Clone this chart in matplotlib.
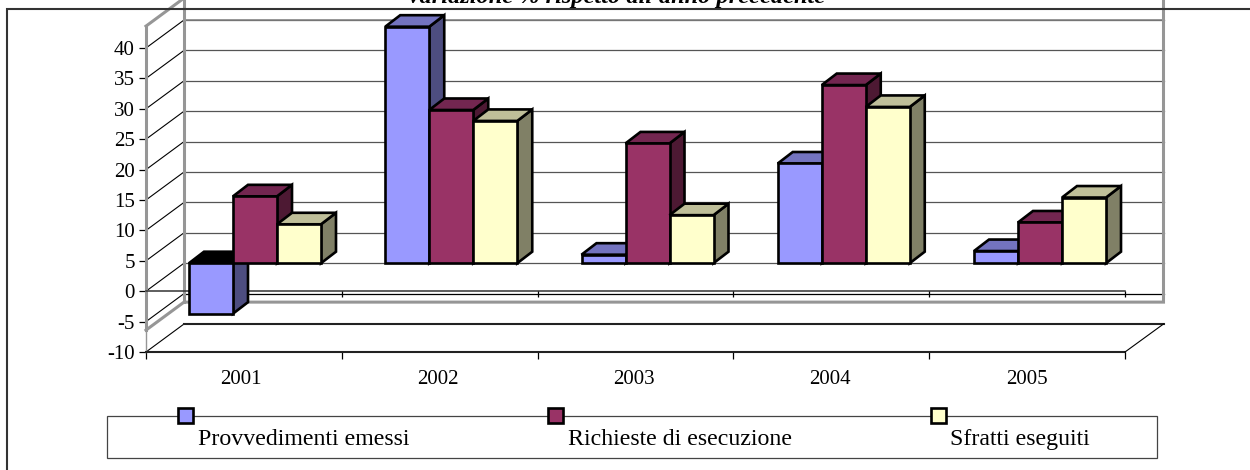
import matplotlib
matplotlib.use("Agg")
import matplotlib.pyplot as plt
from matplotlib.patches import Polygon, Rectangle
from matplotlib.lines import Line2D

plt.rcParams['font.family'] = ['Liberation Serif', 'DejaVu Serif']
plt.rcParams['axes.unicode_minus'] = False

years = ['2001', '2002', '2003', '2004', '2005']
provvedimenti = [-8.3, 38.9, 1.4, 16.4, 2.0]
richieste = [11.0, 25.2, 19.7, 29.3, 6.7]
sfratti = [6.4, 23.4, 7.9, 25.7, 10.8]
yticks = [-10, -5, 0, 5, 10, 15, 20, 25, 30, 35, 40]

names = ['Provvedimenti emessi', 'Richieste di esecuzione', 'Sfratti eseguiti']
face = ['#9999FF', '#993366', '#FFFFCC']
side = ['#4D4D80', '#4D1933', '#808066']
roof = ['#7373BF', '#732650', '#BFBF99']

W, H = 1250, 470
GRAY = '#969696'

fig = plt.figure(figsize=(W / 100, H / 100), dpi=100)

# pixel helpers, plot box runs from x 146 to 1125 and y 48 (=40) to 352 (=-10)
def fx(px):
    return px / W

def fy(py):
    return (H - py) / H

ax = fig.add_axes([fx(146), fy(352), fx(1125) - fx(146), fy(48) - fy(352)])
ax.set_xlim(0, 5)
ax.set_ylim(-10, 40)
ax.patch.set_alpha(0)
for s in ax.spines.values():
    s.set_visible(False)

# depth of the fake 3d box and of the bars, data units
px_x = 5 / (1125 - 146)
px_y = 50 / (352 - 48)
DX, DY = 38 * px_x, 28 * px_y
BX, BY = 15 * px_x, 11.5 * px_y
BASE = DY
BAR_W = 44 * px_x
START = 43 * px_x
STEP = 196.25 * px_x
WALL_TOP, WALL_BOT = 43.6, -6.4
XR = 5 + 38.5 * px_x

# gridlines on the back wall
for v in yticks[1:]:
    c = 'black' if v == -5 else '#555555'
    ax.plot([DX, XR], [v + DY, v + DY], color=c, lw=0.9, clip_on=False, zorder=1)
for v in yticks:
    ax.plot([0, DX], [v, v + DY], color='black', lw=0.8, clip_on=False, zorder=1)
ax.plot([DX, XR], [40 + DY, 40 + DY], color='#808080', lw=1.1, clip_on=False, zorder=1)

# walls
ax.plot([0, DX, XR, XR], [WALL_BOT, WALL_BOT + DY, WALL_BOT + DY, WALL_TOP + DY + 5],
        color=GRAY, lw=2.2, clip_on=False, zorder=2, solid_joinstyle='miter')
ax.plot([DX, DX], [WALL_BOT + DY, WALL_TOP + DY + 5], color=GRAY, lw=2.2, clip_on=False, zorder=2)
ax.plot([0, 0], [WALL_BOT, WALL_TOP], color=GRAY, lw=2.2, clip_on=False, zorder=2)
ax.plot([0, DX], [WALL_TOP, WALL_TOP + DY], color=GRAY, lw=2.2, clip_on=False, zorder=2)
ax.plot([0, 0], [-10, WALL_BOT], color=GRAY, lw=1, clip_on=False, zorder=2)

# floor
ax.plot([0, 5], [-10, -10], color='#222222', lw=1.5, clip_on=False, zorder=3)
ax.plot([DX, XR], [-10 + DY, -10 + DY], color='#222222', lw=1.5, clip_on=False, zorder=3)
ax.plot([5, XR], [-10, -10 + DY], color='black', lw=0.8, clip_on=False, zorder=3)

# zero axis with its ticks
ax.plot([0, 5], [0, 0], color='#333333', lw=1.1, clip_on=False, zorder=3)
ax.vlines(range(1, 6), -1, 0, color='black', lw=0.9, zorder=3, clip_on=False)

z = 10
for i in range(len(years)):
    for k, series in enumerate([provvedimenti, richieste, sfratti]):
        v = series[i]
        x0 = START + i * STEP + k * BAR_W
        x1 = x0 + BAR_W
        low = BASE + min(v, 0)
        top = BASE + max(v, 0)
        ax.add_patch(Polygon([(x1, low), (x1 + BX, low + BY), (x1 + BX, top + BY), (x1, top)],
                             facecolor=side[k], edgecolor='black', lw=1.9, zorder=z,
                             joinstyle='miter', clip_on=False))
        ax.add_patch(Polygon([(x0, top), (x0 + BX, top + BY), (x1 + BX, top + BY), (x1, top)],
                             facecolor='black' if v < 0 else roof[k], edgecolor='black', lw=1.9,
                             zorder=z, joinstyle='miter', clip_on=False))
        ax.bar(x0, v, BAR_W, bottom=BASE, align='edge', color=face[k], edgecolor='black',
               lw=1.9, zorder=z + 1, clip_on=False)
        z += 2

ax.set_yticks(yticks)
ax.tick_params(axis='y', length=5, width=0.9, pad=3, labelsize=15)
ax.set_xticks(range(6))
ax.set_xticklabels([])
ax.tick_params(axis='x', which='major', length=5, width=0.9)
ax.set_xticks([0.485 + i * 1.0035 for i in range(5)], minor=True)
ax.set_xticklabels(years, minor=True, fontsize=15)
ax.tick_params(axis='x', which='minor', length=0, pad=13)

# outer frame, only top and left fall inside the picture
fig.add_artist(Line2D([fx(7), fx(7), 1], [0, fy(9), fy(9)], color='#333333', lw=1.5,
                      solid_joinstyle='miter', zorder=20))

fig.text(fx(616), fy(3), "Variazione % rispetto all'anno precedente", ha='center', va='baseline',
         fontsize=17.6, style='italic', fontweight='bold', color='black')

# legend is a long box with the keys sitting on its top edge
fig.add_artist(Rectangle((fx(107), fy(458)), fx(1157) - fx(107), fy(416) - fy(458),
                         facecolor='white', edgecolor='#444444', lw=0.9,
                         transform=fig.transFigure, zorder=5))
key_x = [178, 548, 931]
text_x = [198, 568, 950]
for k, name in enumerate(names):
    fig.add_artist(Rectangle((fx(key_x[k]), fy(423)), 15 / W, 15 / H, facecolor=face[k],
                             edgecolor='black', lw=1.9, transform=fig.transFigure, zorder=6))
    fig.text(fx(text_x[k]), fy(445), name, ha='left', va='baseline', fontsize=17.2, zorder=6)

plt.savefig('out.png', dpi=100)
